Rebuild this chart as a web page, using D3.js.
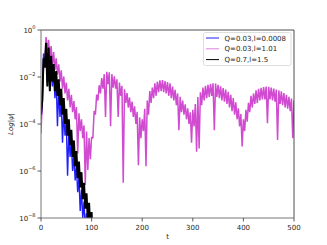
<!DOCTYPE html>
<html>
<head>
<meta charset="utf-8">
<script src="https://cdn.jsdelivr.net/npm/d3@7"></script>
<style>
  body { margin: 0; background: #fff; }
  svg { display: block; }
  text { font-family: "DejaVu Sans", sans-serif; fill: #262626; }
</style>
</head>
<body>
<div id="chart"></div>
<script>
// oscillation samples, log10|psi|: "top" at t = 0,5,10..., "low" half a step later
const tStep = 5;

const blueTop = [-3.8, -1.0, -0.6, -0.9, -1.3, -1.7, -2.1, -2.55, -3.0, -3.45,
  -3.9, -4.35, -4.8, -5.3, -5.8, -6.3, -6.8, -7.3, -7.8, -8.3];
const blueLow = [-3.2, -1.5, -2.2, -2.5, -2.4, -2.9, -4.1, -3.7, -4.8, -4.5,
  -6.2, -5.4, -6.0, -6.4, -6.9, -7.7, -8.0, -8.5, -9.0];

const magentaTop = [
  -4.4, -1.4, -0.3, -0.42, -0.68, -0.94, -1.2, -1.46, -1.72, -1.98,
  -2.24, -2.5, -2.76, -3.02, -3.28, -3.54, -3.8, -4.06, -4.32, -4.6,
  -4.55, -3.45, -2.75, -2.35, -2.05, -1.88, -1.78, -1.8, -1.88, -1.97,
  -2.1, -2.24, -2.38, -2.52, -2.68, -2.87, -3.05, -3.25, -3.48, -3.72,
  -3.8, -3.35, -3.0, -2.6, -2.45, -2.27, -2.2, -2.14, -2.13, -2.17,
  -2.22, -2.27, -2.41, -2.55, -2.7, -2.84, -3.0, -3.16, -3.33, -3.5,
  -3.4, -3.15, -2.85, -2.65, -2.45, -2.38, -2.33, -2.29, -2.27, -2.28,
  -2.33, -2.4, -2.47, -2.53, -2.63, -2.76, -2.9, -3.08, -3.33, -3.58,
  -3.8, -3.4, -3.1, -2.8, -2.7, -2.57, -2.5, -2.46, -2.43, -2.41,
  -2.42, -2.45, -2.49, -2.53, -2.57, -2.61, -2.68, -2.76, -2.84, -2.92,
  -3.0];
const magentaLow = [
  -3.0, -1.5, -0.9, -1.2, -1.5, -1.7, -1.9, -2.2, -2.5, -2.7,
  -3.0, -3.3, -3.5, -3.8, -5.25, -4.3, -4.6, -6.6, -5.96, -5.5,
  -4.6, -3.6, -3.0, -2.7, -2.5, -3.7, -2.3, -4.1, -2.45, -2.5,
  -3.7, -2.8, -6.5, -3.1, -3.3, -3.5, -3.7, -4.0, -5.75, -4.6,
  -4.3, -5.8, -3.6, -3.1, -2.9, -2.8, -2.65, -2.6, -2.65, -2.7,
  -2.8, -2.9, -3.0, -3.2, -4.26, -3.5, -3.6, -3.8, -4.0, -4.8,
  -4.1, -5.18, -5.04, -3.2, -3.0, -2.9, -2.85, -2.8, -4.26, -2.85,
  -2.9, -3.0, -3.05, -3.15, -3.3, -3.45, -3.6, -3.8, -4.1, -4.96,
  -4.3, -3.9, -3.5, -3.3, -3.15, -3.1, -3.0, -2.95, -2.95, -3.97,
  -2.95, -3.0, -3.05, -4.68, -3.15, -3.2, -3.3, -3.35, -3.45, -4.6];

const blackTop = [-3.6, -1.2, -0.55, -0.75, -1.1, -1.45, -1.75, -2.1, -2.5, -2.9,
  -3.35, -3.8, -4.25, -4.7, -5.15, -5.6, -6.05, -6.5, -6.95, -7.35, -7.75, -8.2];
const blackLow = [-3.0, -1.6, -2.4, -2.6, -2.2, -2.6, -2.8, -3.2, -3.6, -4.0,
  -4.5, -4.9, -5.4, -5.8, -6.3, -6.7, -7.2, -7.6, -8.1, -8.5, -9.0];

const seriesNames = ["Q=0.03,l=0.0008", "Q=0.03,l=1.01", "Q=0.7,l=1.5"];
const seriesColors = ["#1f1fff", "#c41ec4", "#000000"];
const xTicks = [0, 100, 200, 300, 400, 500];
const yTickExps = [0, -2, -4, -6, -8];

const W = 327, H = 245;
const margin = { top: 30, right: 33, bottom: 27, left: 41 };

const svg = d3.select("#chart").append("svg")
  .attr("width", W).attr("height", H);

const x = d3.scaleLinear().domain([0, 500]).range([margin.left, W - margin.right]);
const y = d3.scaleLog().domain([1e-8, 1]).range([H - margin.bottom, margin.top]);

svg.append("clipPath").attr("id", "plot-clip")
  .append("rect")
  .attr("x", x(0)).attr("y", y(1))
  .attr("width", x(500) - x(0)).attr("height", y(1e-8) - y(1));

// zig-zag the samples into one trace
function zip(top, low) {
  const pts = [];
  top.forEach((v, i) => {
    pts.push([i * tStep, Math.pow(10, v)]);
    if (i < low.length) pts.push([i * tStep + tStep / 2, Math.pow(10, low[i])]);
  });
  return pts;
}

const series = [
  { pts: zip(blueTop, blueLow), color: seriesColors[0], width: 1.4, opacity: 1 },
  { pts: zip(magentaTop, magentaLow), color: seriesColors[1], width: 1.5, opacity: 0.8 },
  { pts: zip(blackTop, blackLow), color: seriesColors[2], width: 2, opacity: 1 },
];

const line = d3.line().x(d => x(d[0])).y(d => y(d[1]));

svg.append("g").attr("clip-path", "url(#plot-clip)")
  .selectAll("path")
  .data(series)
  .join("path")
  .attr("fill", "none")
  .attr("stroke", d => d.color)
  .attr("stroke-width", d => d.width)
  .attr("stroke-opacity", d => d.opacity)
  .attr("stroke-linejoin", "bevel")
  .attr("d", d => line(d.pts));

// spines
const x0 = x(0), x1 = x(500), y0 = y(1e-8), y1 = y(1);
svg.append("line").attr("x1", x0).attr("x2", x1).attr("y1", y1).attr("y2", y1).attr("stroke", "#222").attr("stroke-width", 0.8);
svg.append("line").attr("x1", x1).attr("x2", x1).attr("y1", y1).attr("y2", y0).attr("stroke", "#222").attr("stroke-width", 0.8);
svg.append("line").attr("x1", x0).attr("x2", x0).attr("y1", y1).attr("y2", y0).attr("stroke", "#777").attr("stroke-width", 1);
svg.append("line").attr("x1", x0).attr("x2", x1).attr("y1", y0).attr("y2", y0).attr("stroke", "#777").attr("stroke-width", 1);

// x axis
const xAxis = svg.append("g");
xTicks.forEach(t => {
  xAxis.append("line").attr("x1", x(t)).attr("x2", x(t)).attr("y1", y0).attr("y2", y0 + 3.5)
    .attr("stroke", "#333").attr("stroke-width", 0.8);
  xAxis.append("text").attr("x", x(t)).attr("y", y0 + 11.5)
    .attr("text-anchor", "middle").attr("font-size", 7).text(t);
});
svg.append("text").attr("x", (x0 + x1) / 2).attr("y", 238.5)
  .attr("text-anchor", "middle").attr("font-size", 7).text("t");

// y axis
const yAxis = svg.append("g");
yTickExps.forEach(e => {
  const yy = y(Math.pow(10, e));
  yAxis.append("line").attr("x1", x0 - 3.5).attr("x2", x0).attr("y1", yy).attr("y2", yy)
    .attr("stroke", "#333").attr("stroke-width", 0.8);
  const txt = yAxis.append("text").attr("x", x0 - 5.5).attr("y", yy + 2.5)
    .attr("text-anchor", "end").attr("font-size", 7);
  txt.append("tspan").text("10");
  txt.append("tspan").attr("font-size", 5).attr("dy", -3.5)
    .text(e === 0 ? "0" : "\u2212" + Math.abs(e));
});
svg.append("text")
  .attr("transform", `translate(13,${(y0 + y1) / 2}) rotate(-90)`)
  .attr("text-anchor", "middle").attr("font-size", 7)
  .attr("font-style", "italic")
  .text("Log|\u03c8|");

// legend
const lg = svg.append("g");
lg.append("rect").attr("x", 203.5).attr("y", 32.5).attr("width", 87.5).attr("height", 33)
  .attr("rx", 2).attr("fill", "#fff").attr("fill-opacity", 0.8)
  .attr("stroke", "#d6d6d6").attr("stroke-width", 0.8);
seriesNames.forEach((name, i) => {
  const ly = 38 + i * 10.8;
  lg.append("line").attr("x1", 206).attr("x2", 219).attr("y1", ly).attr("y2", ly)
    .attr("stroke", seriesColors[i]).attr("stroke-width", 1)
    .attr("stroke-opacity", i === 1 ? 0.55 : 1);
  lg.append("text").attr("x", 224.5).attr("y", ly + 2.5).attr("font-size", 7).text(name);
});
</script>
</body>
</html>
